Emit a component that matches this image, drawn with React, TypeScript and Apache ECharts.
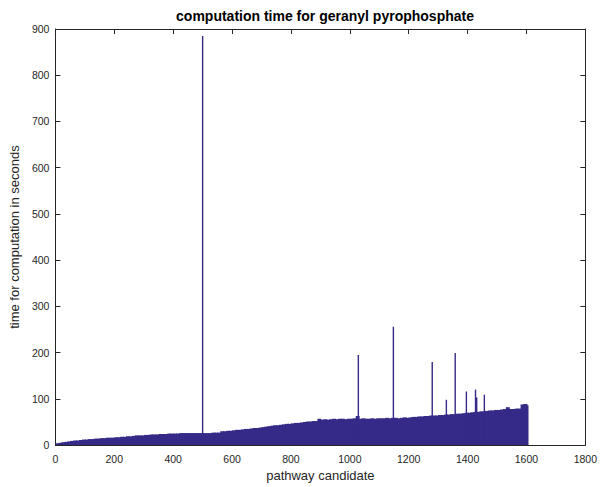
import React, { useEffect, useRef } from "react";
import * as echarts from "echarts";

// Typical computation time per block of 10 pathway candidates (seconds)
const binWidth = 10;
const lastCandidate = 1607;
const envelope: number[] = [
  // 0-90
  4, 5, 6, 7, 8, 9, 10, 10, 11, 12,
  // 100-190
  12, 13, 13, 14, 14, 15, 15, 16, 16, 16,
  // 200-290
  17, 17, 18, 18, 19, 19, 20, 21, 21, 21,
  // 300-390
  22, 22, 23, 23, 23, 24, 24, 24, 25, 25,
  // 400-490
  25, 25, 26, 26, 26, 26, 26, 26, 26, 26,
  // 500-590
  26, 26, 26, 27, 27, 27, 30, 30, 31, 31,
  // 600-690
  32, 33, 33, 34, 35, 35, 36, 37, 37, 38,
  // 700-790
  39, 40, 41, 42, 43, 43, 44, 45, 46, 46,
  // 800-890
  47, 48, 48, 49, 50, 51, 51, 52, 52, 57,
  // 900-990
  55, 56, 55, 56, 57, 56, 57, 57, 56, 57,
  // 1000-1090
  57, 58, 63, 57, 58, 57, 57, 58, 57, 58,
  // 1100-1190
  58, 58, 59, 58, 59, 59, 58, 59, 60, 59,
  // 1200-1290
  60, 61, 61, 62, 62, 63, 63, 64, 64, 64,
  // 1300-1390
  65, 65, 66, 66, 67, 67, 68, 68, 69, 70,
  // 1400-1490
  70, 71, 72, 72, 73, 73, 74, 75, 75, 76,
  // 1500-1590
  76, 77, 78, 82, 78, 78, 79, 79, 88, 89,
  // 1600
  86,
];

// Outlier candidates (spikes)
const spikeCandidates: number[] = [500, 1029, 1148, 1280, 1328, 1358, 1396, 1427, 1431, 1457];
const spikeValues: number[] = [885, 195, 256, 180, 98, 199, 116, 120, 103, 109];

const xTicks = { min: 0, max: 1800, interval: 200 };
const yTicks = { min: 0, max: 900, interval: 100 };

const barColor = "#352a87";
const axisColor = "#262626";

export default function App() {
  const ref = useRef<HTMLDivElement>(null);

  useEffect(() => {
    if (!ref.current) return;
    const chart = echarts.init(ref.current, null, { renderer: "svg" });

    const envData = envelope.map((v, i) => {
      const start = i * binWidth;
      const end = Math.min(start + binWidth, lastCandidate);
      return [start, end, v];
    });
    const spikeData = spikeCandidates.map((c, i) => [c, spikeValues[i]]);

    const font = "'Liberation Sans', Arial, Helvetica, sans-serif";
    const fmt = (v: number) => String(v);
    const axisCommon = {
      axisLine: { show: true, onZero: false, lineStyle: { color: axisColor, width: 1 } },
      axisTick: { show: true, inside: true, length: 5, lineStyle: { color: axisColor, width: 1 } },
      splitLine: { show: false },
    };

    chart.setOption({
      animation: false,
      backgroundColor: "#ffffff",
      title: {
        text: "computation time for geranyl pyrophosphate",
        left: 320,
        textAlign: "center",
        top: 4,
        textStyle: { fontFamily: font, fontSize: 14, fontWeight: "bold", color: "#000000" },
      },
      grid: { left: 54, right: 14, top: 29, bottom: 36, containLabel: false },
      xAxis: [
        {
          type: "value",
          ...xTicks,
          ...axisCommon,
          position: "bottom",
          name: "pathway candidate",
          nameLocation: "middle",
          nameGap: 22,
          nameTextStyle: { fontFamily: font, fontSize: 13, color: axisColor },
          axisLabel: { fontFamily: font, fontSize: 10.5, color: axisColor, margin: 8, formatter: fmt },
        },
        {
          type: "value",
          ...xTicks,
          ...axisCommon,
          position: "top",
          axisLabel: { show: false },
        },
      ],
      yAxis: [
        {
          type: "value",
          ...yTicks,
          ...axisCommon,
          position: "left",
          name: "time for computation in seconds",
          nameLocation: "middle",
          nameGap: 27,
          nameTextStyle: { fontFamily: font, fontSize: 13, color: axisColor },
          axisLabel: { fontFamily: font, fontSize: 10.5, color: axisColor, margin: 6, formatter: fmt },
        },
        {
          type: "value",
          ...yTicks,
          ...axisCommon,
          position: "right",
          axisLabel: { show: false },
        },
      ],
      series: [
        {
          type: "custom",
          name: "bulk",
          xAxisIndex: 0,
          yAxisIndex: 0,
          clip: true,
          data: envData,
          encode: { x: [0, 1], y: 2 },
          renderItem: (params: any, api: any) => {
            const s = api.value(0);
            const e = api.value(1);
            const v = api.value(2);
            const p0 = api.coord([s, v]);
            const p1 = api.coord([e, 0]);
            const last = e >= lastCandidate;
            return {
              type: "rect",
              shape: {
                x: p0[0],
                y: p0[1],
                width: p1[0] - p0[0] + (last ? 0 : 1),
                height: p1[1] - p0[1],
              },
              style: { fill: barColor, stroke: null },
            };
          },
          z: 2,
        },
        {
          type: "custom",
          name: "spikes",
          xAxisIndex: 0,
          yAxisIndex: 0,
          clip: true,
          data: spikeData,
          encode: { x: 0, y: 1 },
          renderItem: (params: any, api: any) => {
            const c = api.value(0);
            const v = api.value(1);
            const p0 = api.coord([c, v]);
            const p1 = api.coord([c, 0]);
            const w = 1.4;
            return {
              type: "rect",
              shape: { x: p0[0] - w / 2, y: p0[1], width: w, height: p1[1] - p0[1] },
              style: { fill: barColor, stroke: null },
            };
          },
          z: 3,
        },
      ],
    });

    return () => chart.dispose();
  }, []);

  return (
    <div
      ref={ref}
      style={{ position: "fixed", left: 0, top: 0, width: 600, height: 487, overflow: "hidden" }}
    />
  );
}
